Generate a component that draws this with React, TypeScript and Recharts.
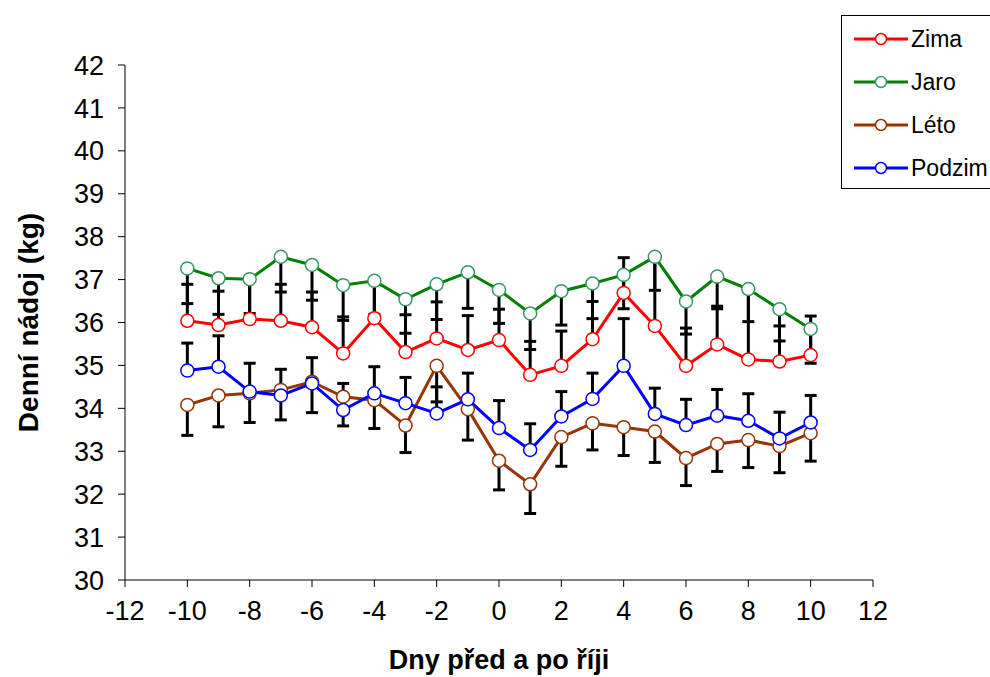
import { LineChart, Line, XAxis, YAxis, ErrorBar, Legend, Label } from "recharts"

const days = [-10, -9, -8, -7, -6, -5, -4, -3, -2, -1, 0, 1, 2, 3, 4, 5, 6, 7, 8, 9, 10]

const zima = [36.04, 35.94, 36.08, 36.04, 35.89, 35.28, 36.1, 35.31, 35.63, 35.36, 35.59, 34.78, 34.99, 35.61, 36.69, 35.92, 34.99, 35.49, 35.14, 35.09, 35.24]
const jaro = [37.26, 37.03, 37.01, 37.53, 37.34, 36.87, 36.97, 36.54, 36.89, 37.17, 36.76, 36.21, 36.73, 36.91, 37.11, 37.53, 36.49, 37.07, 36.78, 36.31, 35.85]
const leto = [34.08, 34.3, 34.35, 34.43, 34.62, 34.27, 34.19, 33.6, 34.99, 33.98, 32.78, 32.23, 33.33, 33.65, 33.56, 33.46, 32.84, 33.17, 33.26, 33.12, 33.42]
const podzim = [34.88, 34.97, 34.39, 34.3, 34.58, 33.96, 34.35, 34.12, 33.88, 34.21, 33.54, 33.03, 33.81, 34.22, 34.99, 33.87, 33.61, 33.83, 33.71, 33.3, 33.67]

// error bars: winter and autumn only upwards, spring and summer only downwards
const zimaSd = [0.85, 0.79, 0.93, 0.85, 0.82, 0.85, 0.87, 0.87, 0.85, 0.8, 0.72, 0.78, 0.81, 0.88, 0.82, 1.61, 0.88, 0.89, 1.64, 0.83, 0.91]
const jaroSd = [0.82, 0.84, 0.8, 0.82, 0.82, 0.82, 0.78, 0.79, 0.82, 0.84, 0.78, 0.84, 0.79, 0.82, 0.79, 0.78, 0.76, 0.75, 0.76, 0.74, 0.8]
const letoSd = [0.71, 0.73, 0.68, 0.7, 0.72, 0.68, 0.66, 0.63, 0.84, 0.72, 0.68, 0.68, 0.68, 0.62, 0.66, 0.72, 0.64, 0.64, 0.64, 0.62, 0.65]
const podzimSd = [0.64, 0.72, 0.66, 0.61, 0.6, 0.62, 0.62, 0.6, 0.62, 0.61, 0.64, 0.61, 0.58, 0.6, 1.1, 0.6, 0.6, 0.61, 0.63, 0.61, 0.63]

const xTicks = [-12, -10, -8, -6, -4, -2, 0, 2, 4, 6, 8, 10, 12]
const yTicks = [30, 31, 32, 33, 34, 35, 36, 37, 38, 39, 40, 41, 42]

const series = [
  { key: "zima", name: "Zima", line: "#ff0000", marker: "#ff0000" },
  { key: "jaro", name: "Jaro", line: "#008000", marker: "#339966" },
  { key: "leto", name: "Léto", line: "#993300", marker: "#993300" },
  { key: "podzim", name: "Podzim", line: "#0000ff", marker: "#0000ff" },
]

const font = "'Liberation Sans', Arial, sans-serif"

const data = days.map((day, i) => ({
  day,
  zima: zima[i],
  jaro: jaro[i],
  leto: leto[i],
  podzim: podzim[i],
  zimaErr: [0, zimaSd[i]],
  jaroErr: [jaroSd[i], 0],
  letoErr: [letoSd[i], 0],
  podzimErr: [0, podzimSd[i]],
}))

function LegendBox() {
  return (
    <div
      style={{
        width: 150,
        height: 174,
        border: "1px solid #000",
        borderRight: "none",
        boxSizing: "border-box",
        background: "#fff",
        position: "relative",
        fontFamily: font,
      }}
    >
      {series.map((s, i) => (
        <div
          key={s.key}
          style={{ position: "absolute", left: 12, top: 23 + i * 43 - 14, height: 28, display: "flex", alignItems: "center" }}
        >
          <svg width={54} height={14}>
            <line x1={0} y1={7} x2={54} y2={7} stroke={s.line} strokeWidth={3} />
            <circle cx={27} cy={7} r={5.5} fill="#fff" stroke={s.marker} strokeWidth={1.5} />
          </svg>
          <span style={{ marginLeft: 3, fontSize: 23, color: "#000" }}>{s.name}</span>
        </div>
      ))}
    </div>
  )
}

const XTitle = (props: any) => {
  const { x, y, width } = props.viewBox
  return (
    <text x={x + width / 2} y={y + 89} textAnchor="middle" fontFamily={font} fontSize={27} fontWeight="bold" fill="#000">
      Dny před a po říji
    </text>
  )
}

const YTitle = (props: any) => {
  const { y, height } = props.viewBox
  const cx = 30
  const cy = y + height / 2
  return (
    <text x={cx} y={cy} transform={`rotate(-90, ${cx}, ${cy})`} textAnchor="middle" fontFamily={font} fontSize={28} fontWeight="bold" fill="#000">
      Denní nádoj (kg)
    </text>
  )
}

export default function App() {
  const tickStyle = { fontSize: 27, fill: "#000", fontFamily: font }
  return (
    <div style={{ position: "absolute", left: 8, top: 8, background: "#fff" }}>
      <LineChart width={982} height={669} data={data} margin={{ top: 57, right: 117, bottom: 67, left: 0 }}>
        <XAxis
          dataKey="day"
          type="number"
          domain={[-12, 12]}
          ticks={xTicks}
          interval={0}
          height={30}
          tickSize={7}
          tickMargin={14}
          tick={tickStyle}
          stroke="#000"
          tickLine={{ stroke: "#000" }}
          label={<Label content={XTitle} />}
        />
        <YAxis
          type="number"
          domain={[30, 42]}
          ticks={yTicks}
          interval={0}
          width={117}
          tickSize={7}
          tickMargin={14}
          tick={tickStyle}
          stroke="#000"
          tickLine={{ stroke: "#000" }}
          label={<Label content={YTitle} />}
        />
        <Legend
          layout="horizontal"
          align="center"
          verticalAlign="middle"
          wrapperStyle={{ left: 833, top: 7, width: 150, height: 174 }}
          content={() => <LegendBox />}
        />
        {series.map((s) => (
          <Line
            key={s.key}
            dataKey={s.key}
            name={s.name}
            stroke={s.line}
            strokeWidth={3}
            dot={{ r: 6.5, fill: "#fff", stroke: s.marker, strokeWidth: 1.5 }}
            isAnimationActive={false}
          >
            <ErrorBar dataKey={`${s.key}Err`} direction="y" width={6} stroke="#000" strokeWidth={3} />
          </Line>
        ))}
      </LineChart>
    </div>
  )
}
